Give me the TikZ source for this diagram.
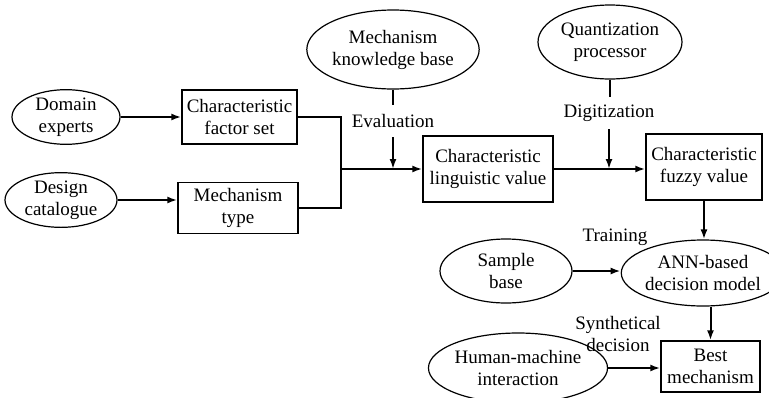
\documentclass[tikz,border=0pt]{standalone}
\usepackage{fontspec}
\setmainfont{Liberation Serif}
\usetikzlibrary{shapes.geometric,arrows.meta}
\begin{document}
\begin{tikzpicture}[x=1pt,y=-1pt,
  every node/.style={font=\fontsize{19}{22}\selectfont, align=center, inner sep=0pt},
  oval/.style={ellipse, draw, line width=1.2pt},
  rbox/.style={rectangle, draw, line width=1.3pt},
  lbl/.style={minimum height=32pt},
  conn/.style={line width=1.6pt},
  arr/.style={line width=2pt, -{Latex[length=10pt,width=7pt]}}]
\useasboundingbox (0,0) rectangle (769,397);
\node[oval, minimum width=108pt, minimum height=50pt] (de) at (66,117) {Domain\\experts};
\node[oval, minimum width=112pt, minimum height=51pt] (dc) at (61,200) {Design\\catalogue};
\node[rbox, minimum width=115pt, minimum height=54pt] (cfs) at (239.5,117) {Characteristic\\factor set};
\node[rbox, minimum width=120pt, minimum height=51pt] (mt) at (238,208) {Mechanism\\type};
\node[oval, minimum width=148pt, minimum height=79pt] (mkb) at (393,49.5) {Mechanism\\knowledge base};
\node[rbox, minimum width=130pt, minimum height=66pt] (clv) at (488,169) {Characteristic\\linguistic value};
\node[oval, minimum width=144pt, minimum height=74pt] (qp) at (610,42) {Quantization\\processor};
\node[rbox, minimum width=116pt, minimum height=66pt] (cfv) at (704,167) {Characteristic\\fuzzy value};
\node[oval, minimum width=132pt, minimum height=64pt] (sb) at (506,271) {Sample\\base};
\node[oval, minimum width=130pt, minimum height=66pt] (ann) at (703,273) {ANN-based\\decision model};
\node[oval, minimum width=146pt, minimum height=70pt] (hmi) at (518,368) {Human-machine\\interaction};
\node[rbox, minimum width=99pt, minimum height=51pt] (bm) at (710.5,366.5) {Best\\mechanism};
\node[lbl] (ev) at (393,121) {Evaluation};
\node[lbl] (dg) at (609,113) {Digitization};
\node (tr) at (615,237) {Training};
\node (sd) at (618,334) {Synthetical\\decision};
\coordinate (j) at (341,169);
\draw[arr] (de.east) -- (de.east -| cfs.west);
\draw[arr] (dc.east) -- (dc.east -| mt.west);
\draw[conn] (cfs.east) -| (j);
\draw[conn] (mt.east) -| (j);
\draw[arr] (j) -- (j -| clv.west);
\draw[conn] (mkb.south) -- (ev.north);
\draw[arr] (ev.south) -- (ev.south |- j);
\draw[conn] (qp.south) -- (qp.south |- dg.north);
\draw[arr] (dg.south) -- (dg.south |- clv.east);
\draw[arr] (clv.east) -- (clv.east -| cfv.west);
\draw[arr] (cfv.south) -- (cfv.south |- ann.north);
\draw[arr] (sb.east) -- (sb.east -| ann.west);
\draw[arr] (ann.south -| bm.north) -- (bm.north);
\draw[arr] (hmi.east) -- (hmi.east -| bm.west);
\end{tikzpicture}
\end{document}
